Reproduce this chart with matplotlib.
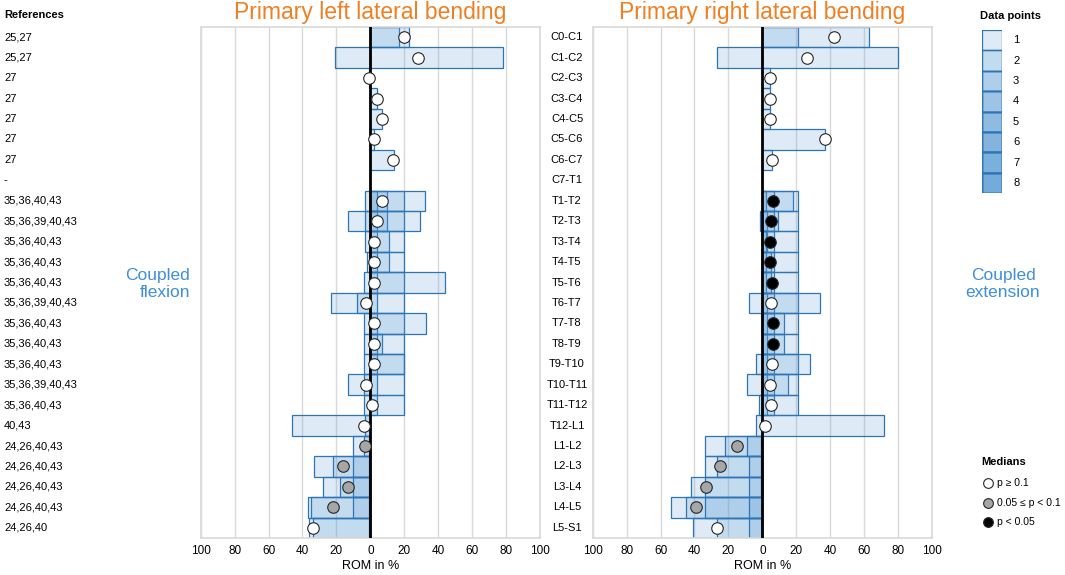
import matplotlib
matplotlib.use("Agg")
import matplotlib.pyplot as plt
import numpy as np

plt.rcParams["font.family"] = ["Liberation Sans", "DejaVu Sans"]

# ----------------- data -----------------
levels = ["C0-C1", "C1-C2", "C2-C3", "C3-C4", "C4-C5", "C5-C6", "C6-C7", "C7-T1",
          "T1-T2", "T2-T3", "T3-T4", "T4-T5", "T5-T6", "T6-T7", "T7-T8", "T8-T9",
          "T9-T10", "T10-T11", "T11-T12", "T12-L1",
          "L1-L2", "L2-L3", "L3-L4", "L4-L5", "L5-S1"]

references = ["25,27", "25,27", "27", "27", "27", "27", "27", "-",
              "35,36,40,43", "35,36,39,40,43", "35,36,40,43", "35,36,40,43",
              "35,36,40,43", "35,36,39,40,43", "35,36,40,43", "35,36,40,43",
              "35,36,40,43", "35,36,39,40,43", "35,36,40,43", "40,43",
              "24,26,40,43", "24,26,40,43", "24,26,40,43", "24,26,40,43", "24,26,40"]

# single study values (ROM in %, negative = coupled flexion / extension side)
left_vals = [[17, 23], [-21, 78], [-1], [4], [7], [2], [14], [],
             [-3, 4, 10, 20, 32], [-13, -3, 4, 10, 20, 29], [-3, 4, 11, 20],
             [-2, 4, 11, 20], [-4, 4, 20, 44], [-23, -8, 4, 20], [-4, 4, 20, 33],
             [-4, 4, 7, 20], [-4, 4, 20, 20], [-13, -4, 4, 20], [-4, 4, 20],
             [-46, -3], [-10, -4, -1], [-33, -22, -10, -1], [-28, -18, -10, -1],
             [-37, -35, -10, -1], [-36, -34, -1]]

right_vals = [[21, 63], [-27, 80], [4.5], [4.5], [4.5], [37], [5.5], [],
              [2, 7, 18, 21], [-1.5, 3, 7, 9, 21], [2, 3, 7, 21], [2, 5, 7, 21],
              [2, 5, 7, 21], [-8, 3, 7, 21, 34], [3, 7, 13, 21], [3, 7, 13, 21],
              [-4, 3, 7, 21, 28], [-9, 3, 7, 15, 21], [-2, 3, 7, 21], [-4, 72],
              [-34, -22, -9, -1], [-34, -27, -8, -1], [-42, -34, -8, -1],
              [-54, -45, -34, -8], [-41, -27, -8]]

left_median = [20, 28, -1, 4, 7, 2, 13.5, None, 7, 4, 2, 2, 2, -2.5, 2, 2, 2,
               -2.5, 1, -4, -3, -16, -13, -22, -34]
right_median = [42, 26.5, 4.5, 4.5, 4.5, 37, 5.7, None, 6, 5, 4.3, 4.7, 5.5, 5,
                6.5, 6.5, 5.5, 4.5, 5, 1.4, -15, -25, -33, -39, -27]

# p-value class: 0 = p >= 0.1, 1 = 0.05 <= p < 0.1, 2 = p < 0.05
left_p = [0, 0, 0, 0, 0, 0, 0, 0, 0, 0, 0, 0, 0, 0, 0, 0, 0, 0, 0, 0, 1, 1, 1, 1, 0]
right_p = [0, 0, 0, 0, 0, 0, 0, 0, 2, 2, 2, 2, 2, 0, 2, 2, 0, 0, 0, 0, 1, 1, 1, 1, 0]

n_points_legend = [1, 2, 3, 4, 5, 6, 7, 8]
median_labels = ["p \u2265 0.1", "0.05 \u2264 p < 0.1", "p < 0.05"]
median_colors = ["white", "#A6A6A6", "black"]

xticks = list(range(-100, 101, 20))

BASE = (91 / 255, 155 / 255, 213 / 255, 0.2)
EDGE = "#2E75B6"
GRID = "#D9D9D9"
ORANGE = "#F07F22"
BLUE_TXT = "#3F8FD8"

W, H = 1065, 575
fig = plt.figure(figsize=(W / 100, H / 100), dpi=100)


def px_axes(x0, y0, x1, y1):
    # axes from pixel box (top-left origin)
    return fig.add_axes([x0 / W, 1 - y1 / H, (x1 - x0) / W, (y1 - y0) / H])


def draw_panel(ax, vals, med, pcls):
    ypos = np.arange(len(levels))
    for i, row in enumerate(vals):
        for v in row:
            ax.barh(i, v, height=1.0, left=0, color=BASE, edgecolor=EDGE,
                    linewidth=0.9, zorder=2)
    ax.axvline(0, color="black", lw=2, zorder=3)
    for i in ypos:
        if med[i] is None:
            continue
        ax.plot(med[i], i, "o", ms=8.3, mfc=median_colors[pcls[i]], mec="#262626",
                mew=0.8, zorder=4)
    ax.set_xlim(-100, 100)
    ax.set_ylim(len(levels) - 0.5, -0.5)
    ax.set_yticks([])
    ax.set_xticks(xticks)
    ax.set_xticklabels([str(abs(t)) for t in xticks], fontsize=8.5)
    ax.tick_params(axis="x", length=0, pad=5)
    ax.grid(axis="x", color=GRID, lw=1, zorder=0)
    ax.set_axisbelow(True)
    for s in ax.spines.values():
        s.set_color(GRID)
        s.set_linewidth(1.2)
    ax.set_xlabel("ROM in %", fontsize=9, labelpad=2)


ax_l = px_axes(200.7, 27, 540, 538)
ax_r = px_axes(592.7, 27, 932, 538)
draw_panel(ax_l, left_vals, left_median, left_p)
draw_panel(ax_r, right_vals, right_median, right_p)

# overlay for texts in pixel coords
ov = fig.add_axes([0, 0, 1, 1], zorder=10)
ov.set_xlim(0, W)
ov.set_ylim(H, 0)
ov.axis("off")

row_h = 511 / len(levels)
for i, lab in enumerate(levels):
    y = 27 + (i + 0.5) * row_h
    ov.text(567, y, lab, ha="center", va="center", fontsize=8)
    ov.text(4, y, references[i], ha="left", va="center", fontsize=8)
ov.text(4, 15, "References", ha="left", va="center", fontsize=8, fontweight="bold")

ov.text(370, 12, "Primary left lateral bending", ha="center", va="center",
        fontsize=16.5, color=ORANGE)
ov.text(762, 12, "Primary right lateral bending", ha="center", va="center",
        fontsize=16.5, color=ORANGE)
ov.text(190, 284, "Coupled\nflexion", ha="right", va="center", fontsize=12.5,
        color=BLUE_TXT, linespacing=1.2)
ov.text(1003, 284, "Coupled\nextension", ha="center", va="center", fontsize=12.5,
        color=BLUE_TXT, linespacing=1.2)

# Data points legend
ov.text(1010, 16, "Data points", ha="center", va="center", fontsize=8,
        fontweight="bold")
ax_leg = px_axes(982.3, 30, 1002.3, 193.3)
for n in n_points_legend:
    for _ in range(n):
        ax_leg.barh(n, 1, height=1.0, color=BASE, edgecolor=EDGE, linewidth=0.9)
ax_leg.set_xlim(0, 1)
ax_leg.set_ylim(len(n_points_legend) + 0.5, 0.5)
ax_leg.axis("off")
for n in n_points_legend:
    ov.text(1013, 30 + (n - 0.5) * (163.3 / 8), str(n), ha="left", va="center",
            fontsize=8)

# Medians legend
ov.text(981, 462, "Medians", ha="left", va="center", fontsize=8, fontweight="bold")
for k, (lab, col) in enumerate(zip(median_labels, median_colors)):
    y = 483 + k * 19.5
    ov.plot(988, y, "o", ms=7, mfc=col, mec="#262626", mew=0.8)
    ov.text(997, y, lab, ha="left", va="center", fontsize=7.5)

fig.savefig("out.png", dpi=100)
